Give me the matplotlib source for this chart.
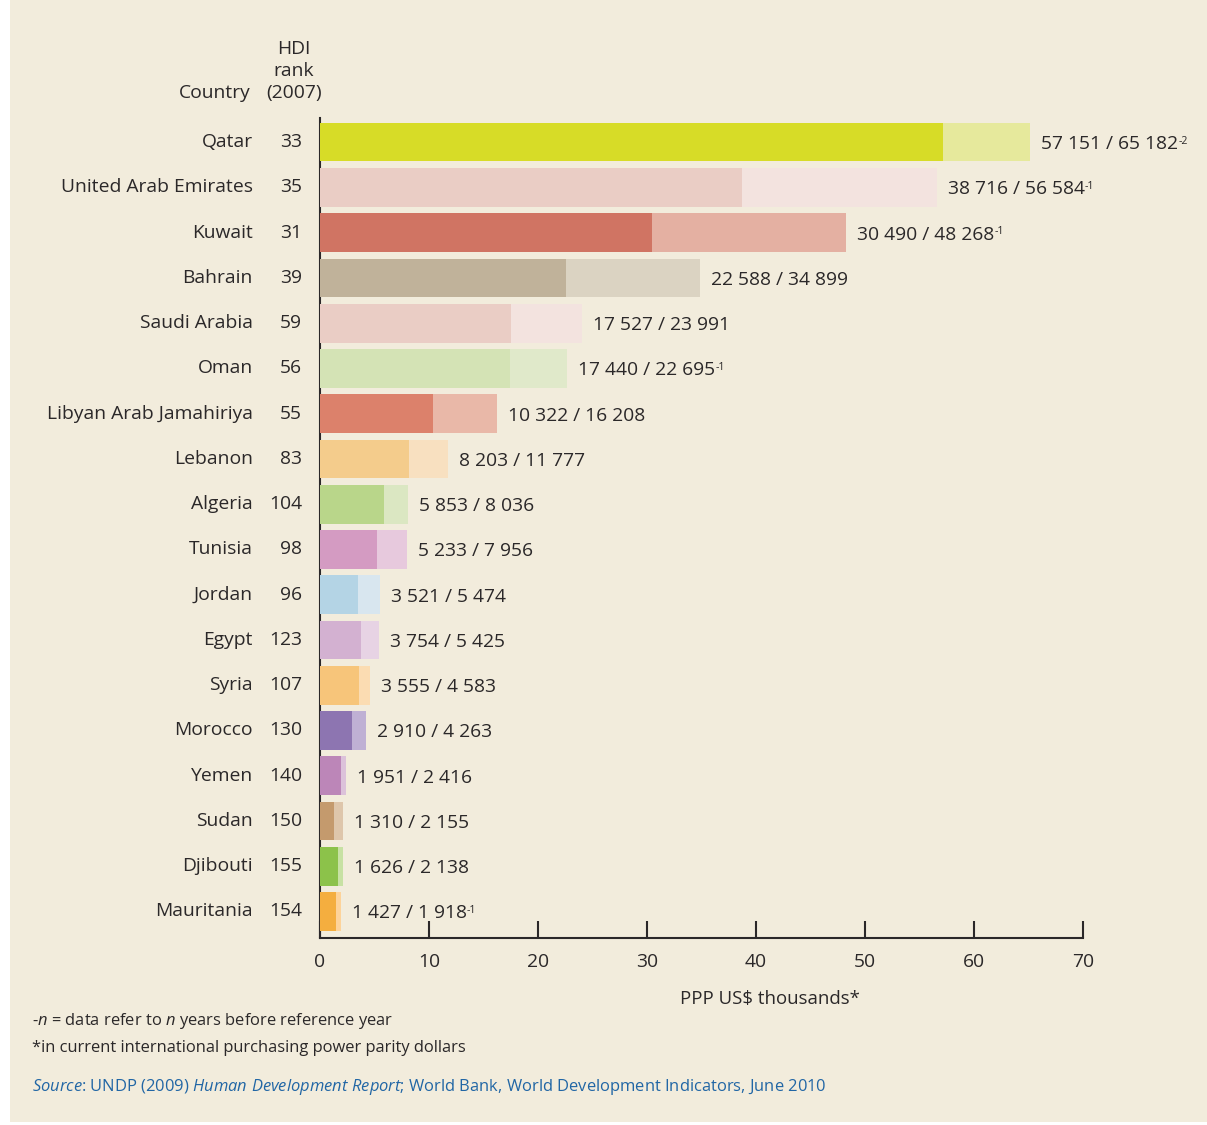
import matplotlib
matplotlib.use("Agg")
import matplotlib.pyplot as plt
from matplotlib.patches import Rectangle
import matplotlib.transforms as mtransforms

# ---------------- data ----------------
countries = ["Qatar", "United Arab Emirates", "Kuwait", "Bahrain", "Saudi Arabia",
             "Oman", "Libyan Arab Jamahiriya", "Lebanon", "Algeria", "Tunisia",
             "Jordan", "Egypt", "Syria", "Morocco", "Yemen", "Sudan", "Djibouti",
             "Mauritania"]
hdi_rank = [33, 35, 31, 39, 59, 56, 55, 83, 104, 98, 96, 123, 107, 130, 140, 150, 155, 154]
value_low = [57151, 38716, 30490, 22588, 17527, 17440, 10322, 8203, 5853, 5233,
             3521, 3754, 3555, 2910, 1951, 1310, 1626, 1427]
value_high = [65182, 56584, 48268, 34899, 23991, 22695, 16208, 11777, 8036, 7956,
              5474, 5425, 4583, 4263, 2416, 2155, 2138, 1918]
year_note = ["-2", "-1", "-1", "", "", "-1", "", "", "", "", "", "", "", "", "", "", "", "-1"]
x_ticks = [0, 10, 20, 30, 40, 50, 60, 70]

# ---------------- styles ----------------
dark_colors = ["#d7dc27", "#eacdc5", "#d07463", "#c0b29a", "#eacdc5", "#d4e3b5",
               "#dc816b", "#f4cc8c", "#b9d68a", "#d49bc2", "#b4d4e5", "#d3b1d1",
               "#f7c57a", "#8d75b1", "#bc86b8", "#c49a6d", "#8cc24a", "#f4ae3f"]
light_colors = ["#e6e99c", "#f3e3df", "#e4b0a2", "#dbd3c2", "#f3e3df", "#e0e9ca",
                "#e9b8a8", "#f8e0c0", "#dbe7c2", "#e7c9dd", "#d8e6ef", "#e7d3e4",
                "#fbdcb2", "#bfb0d4", "#dcc2da", "#dec6ab", "#c7e1a3", "#fdd39a"]
BG = "#f2ecdc"
TXT = "#2b2829"
BLUE = "#2166a5"
FONT = "Open Sans"
FS = 13.9
FS_NOTE = 11.9

plt.rcParams["font.family"] = [FONT, "DejaVu Sans"]
plt.rcParams["mathtext.fontset"] = "custom"
plt.rcParams["mathtext.rm"] = FONT
plt.rcParams["mathtext.it"] = FONT + ":italic"

W, H = 1207, 1125
fig = plt.figure(figsize=(W / 100, H / 100), dpi=100)
fig.patch.set_facecolor("white")
fig.patches.append(Rectangle((10 / W, 3 / H), 1 - 10 / W, 1 - 3 / H,
                             transform=fig.transFigure, facecolor=BG,
                             edgecolor="none", zorder=-10))

def fx(px):
    return px / W

def fy(py):
    return 1 - py / H

ax = fig.add_axes([fx(320), fy(937.5), (1083 - 320) / W, (937.5 - 117.7) / H])
ax.set_facecolor("none")

n = len(countries)
ypos = list(range(n))
bar_h = 0.855
high_k = [v / 1000 for v in value_high]
low_k = [v / 1000 for v in value_low]
ax.barh(ypos, high_k, height=bar_h, color=light_colors, zorder=2)
ax.barh(ypos, low_k, height=bar_h, color=dark_colors, zorder=3)

ax.set_xlim(0, 70)
ax.set_ylim(17.575, -0.54)
for s in ["top", "right"]:
    ax.spines[s].set_visible(False)
for s in ["left", "bottom"]:
    ax.spines[s].set_color(TXT)
    ax.spines[s].set_linewidth(1.5)
ax.set_yticks([])
ax.set_xticks(x_ticks)
ax.set_xticklabels([str(t) for t in x_ticks])
ax.tick_params(axis="x", direction="in", length=12, width=1.5, color=TXT,
               labelsize=FS, labelcolor=TXT, pad=11)

# value labels
for i in range(n):
    lab = f"{value_low[i]:,} / {value_high[i]:,}".replace(",", " ")
    t = ax.annotate(lab, xy=(high_k[i], i), xytext=(11, -2), textcoords="offset pixels",
                    ha="left", va="center", fontsize=FS, color=TXT)
    if year_note[i]:
        ax.annotate(year_note[i], xy=(1, 0.97), xycoords=t, xytext=(0, 0),
                    textcoords="offset pixels", ha="left", va="top",
                    fontsize=FS * 0.55, color=TXT)

# country names and ranks
trans = mtransforms.blended_transform_factory(fig.transFigure, ax.transData)
for i in range(n):
    fig.text(fx(253), i, countries[i], transform=trans, ha="right", va="center",
             fontsize=FS, color=TXT)
    fig.text(fx(302), i, str(hdi_rank[i]), transform=trans, ha="right", va="center",
             fontsize=FS, color=TXT)

# headers
fig.text(fx(251), fy(93), "Country", ha="right", va="center", fontsize=FS, color=TXT)
for txt, yy in [("HDI", 49), ("rank", 71), ("(2007)", 93)]:
    fig.text(fx(294), fy(yy), txt, ha="center", va="center", fontsize=FS, color=TXT)

# axis title
fig.text(fx(770), fy(999), "PPP US$ thousands*", ha="center", va="center",
         fontsize=13.4, color=TXT)

# footnotes
fig.text(fx(32), fy(1021), r"-$n$ = data refer to $n$ years before reference year",
         ha="left", va="center", fontsize=FS_NOTE, color=TXT)
fig.text(fx(32), fy(1048), "*in current international purchasing power parity dollars",
         ha="left", va="center", fontsize=FS_NOTE, color=TXT)
fig.text(fx(32), fy(1087),
         r"$Source$: UNDP (2009) $Human\ Development\ Report$; World Bank, World Development Indicators, June 2010",
         ha="left", va="center", fontsize=FS_NOTE, color=BLUE)

fig.savefig("out.png", dpi=100, facecolor=fig.get_facecolor())
